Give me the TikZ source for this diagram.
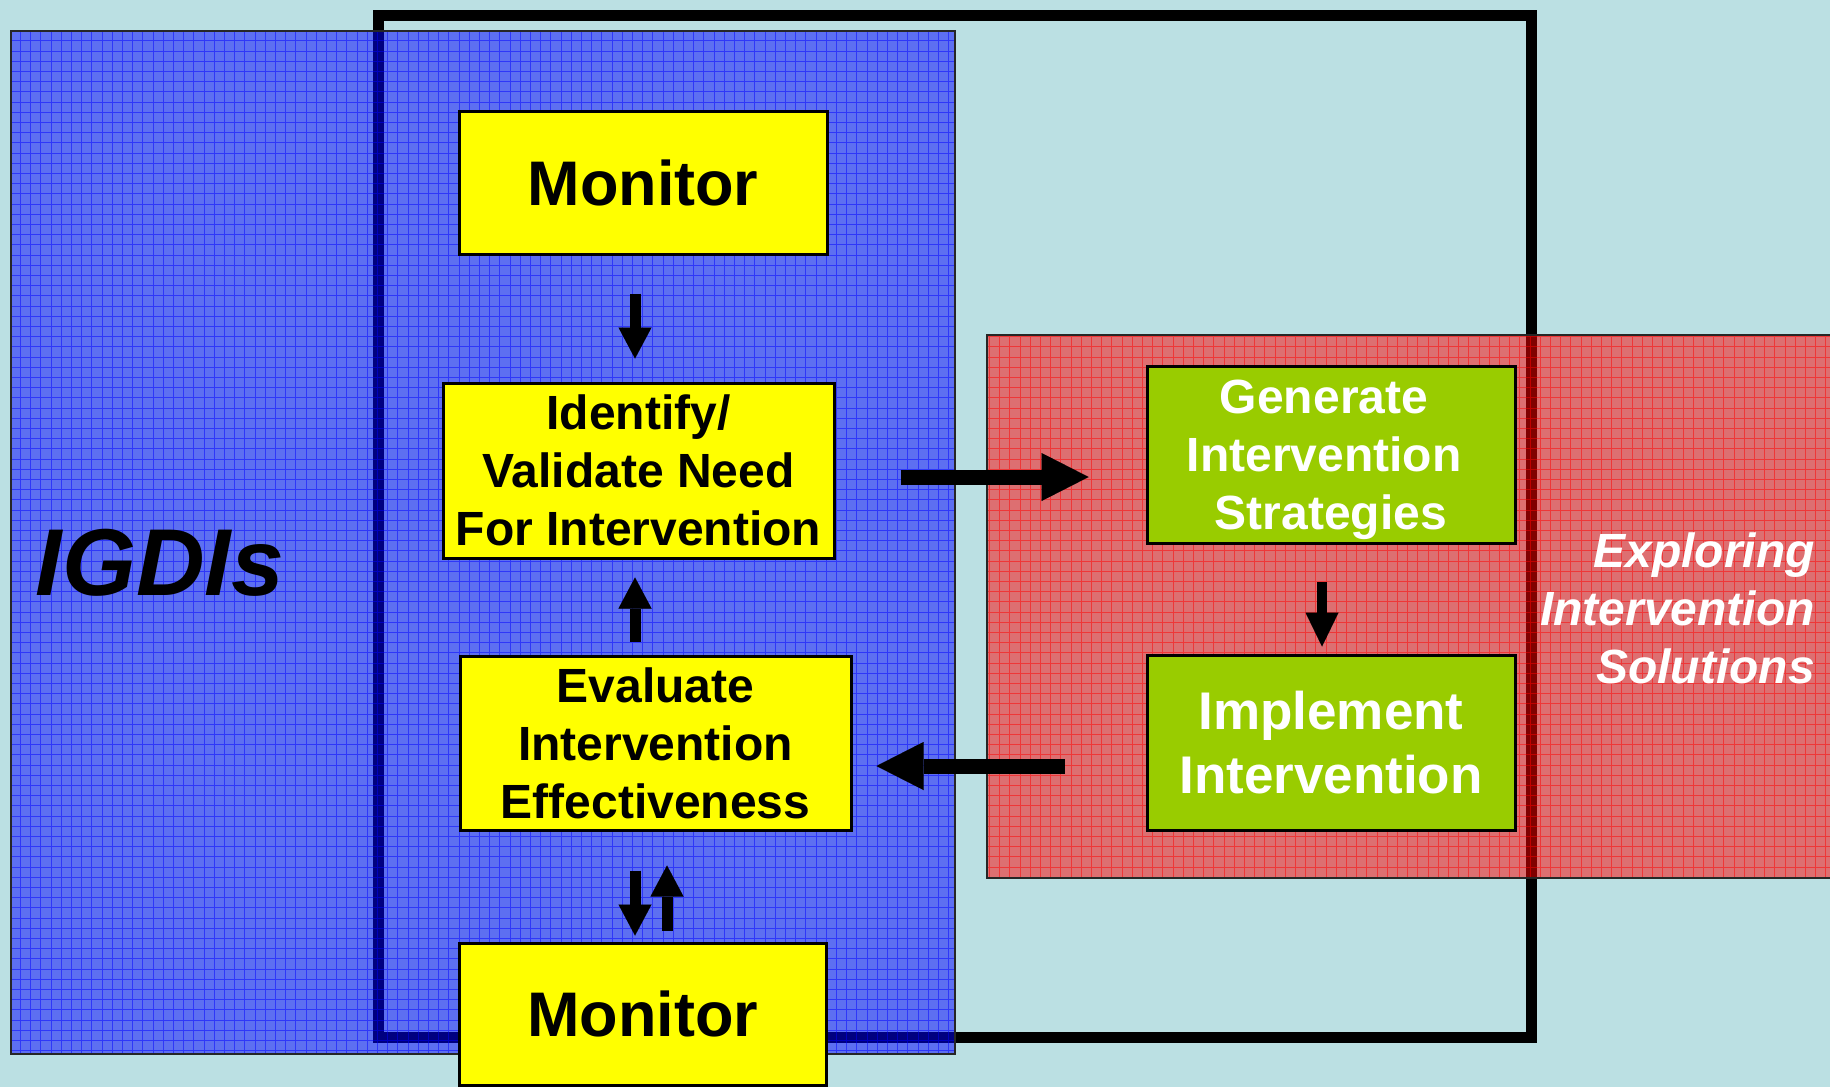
\documentclass[tikz,border=0pt]{standalone}
\usepackage{fontspec}
\setmainfont{Liberation Sans}
\usetikzlibrary{arrows.meta,calc}
\definecolor{bgc}{HTML}{BBE0E3}
\definecolor{ygc}{HTML}{FFFF00}
\definecolor{grc}{HTML}{99CC00}
\tikzset{
  ybox/.style={draw=black, line width=3pt, fill=ygc, inner sep=0pt, align=center},
  gbox/.style={draw=black, line width=3pt, fill=grc, text=white, inner sep=0pt, align=center},
  varr/.style={line width=11pt, -{Triangle[length=31pt,width=33pt,line width=0.01pt]}},
  harr/.style={line width=15pt, -{Triangle[length=47pt,width=48pt,line width=0.01pt]}},
  sarr/.style={line width=10pt, -{Triangle[length=34pt,width=33pt,line width=0.01pt]}}
}
\begin{document}
\begin{tikzpicture}[x=1pt,y=-1pt]
\useasboundingbox (0,0) rectangle (1830,1087);
\fill[bgc] (0,0) rectangle (1830,1087);
% black frame
\draw[line width=11pt] (378,15) rectangle (1531,1037);
% blue panel
\fill[blue, fill opacity=0.5] (11,31) rectangle (955,1054);
\begin{scope}
  \clip (11,31) rectangle (955,1054);
  \draw[blue, opacity=0.5, line width=0.8pt, step=10.2pt] (0,20) grid (960,1060);
\end{scope}
\draw[black!85, line width=2pt] (11,31) rectangle (955,1054);
% red panel
\fill[red, fill opacity=0.5] (987,335) rectangle (1840,878);
\begin{scope}
  \clip (987,335) rectangle (1840,878);
  \draw[red, opacity=0.5, line width=0.8pt, step=10.2pt] (980,330) grid (1840,880);
\end{scope}
\draw[black!85, line width=2pt] (987,335) rectangle (1840,878);
% labels
\node[font=\fontsize{95}{100}\selectfont\bfseries\itshape, inner sep=0pt] (igdi) at (160,563) {IGDIs};
\node[font=\fontsize{48}{58}\selectfont\bfseries\itshape, text=white, align=right, anchor=east, inner sep=0pt] (expl) at (1815,608) {Exploring\\Intervention\\Solutions};
% boxes
\node[ybox, minimum width=368pt, minimum height=143pt, font=\fontsize{63}{70}\selectfont\bfseries] (mon1) at (643,182.5) {Monitor};
\node[ybox, minimum width=391pt, minimum height=175pt, font=\fontsize{48}{58}\selectfont\bfseries] (idf) at (638.5,470.5) {Identify/\\Validate Need\\For Intervention};
\node[ybox, minimum width=391pt, minimum height=174pt, font=\fontsize{48}{58}\selectfont\bfseries] (evl) at (655.5,743) {Evaluate\\Intervention\\Effectiveness};
\node[gbox, minimum width=368pt, minimum height=177pt, text depth=0pt, font=\fontsize{48}{58}\selectfont\bfseries] (gen) at (1331,454.5) {\mbox{Generate\kern14pt}\\\mbox{Intervention\kern14pt}\\\mbox{Strategies}};
\node[gbox, minimum width=368pt, minimum height=175pt, font=\fontsize{53}{64}\selectfont\bfseries] (imp) at (1331,742.5) {Implement\\Intervention};
\node[ybox, minimum width=367pt, minimum height=142pt, font=\fontsize{63}{70}\selectfont\bfseries] (mon2) at (642.5,1014) {Monitor};
% arrows
\draw[varr] ([shift={(-8pt,-38pt)}]mon1.south) -- ([shift={(-3.5pt,23pt)}]idf.north);
\draw[varr] ([shift={(-20.5pt,13pt)}]evl.north) -- ([shift={(-3.5pt,-18pt)}]idf.south);
\draw[varr] ([shift={(-20.5pt,-39pt)}]evl.south) -- ([shift={(-7.5pt,6pt)}]mon2.north);
\draw[varr] ([shift={(24.5pt,11pt)}]mon2.north) -- ([shift={(11.5pt,-34pt)}]evl.south);
\draw[harr] ([shift={(65pt,-6.5pt)}]idf.east) -- ([shift={(-57pt,-22.5pt)}]gen.west);
\draw[harr] ([shift={(-81pt,-23.5pt)}]imp.west) -- ([shift={(24pt,-23pt)}]evl.east);
\draw[sarr] ([shift={(-9pt,-37pt)}]gen.south) -- ([shift={(-9pt,7pt)}]imp.north);
\end{tikzpicture}
\end{document}
